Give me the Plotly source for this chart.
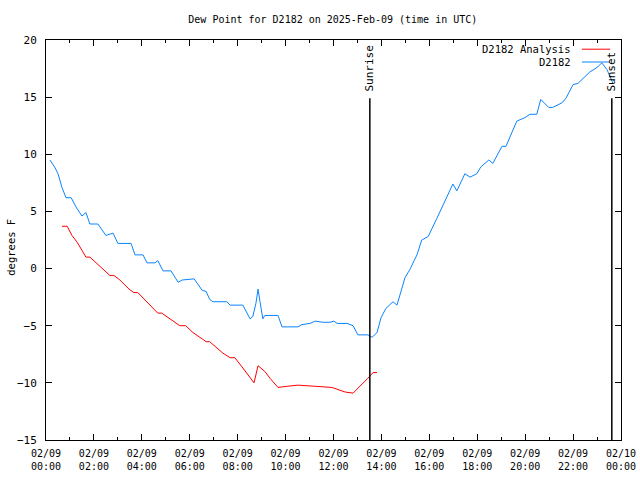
import plotly.graph_objects as go

DAY = "2025-02-09"

obs_times = ["00:10","00:23","00:30","00:40","00:50","01:03","01:15","01:23","01:30","01:40",
             "01:50","02:10","02:30","02:48","03:00","03:33","03:43","04:03","04:13","04:33",
             "04:40","04:53","05:13","05:31","05:41","06:11","06:31","06:41","06:50","06:58",
             "07:33","07:41","08:13","08:31","08:38","08:46","08:51","08:56","09:03","09:08",
             "09:41","09:51","10:31","10:41","11:01","11:14","11:34","11:51","12:01","12:09",
             "12:34","12:49","13:01","13:26","13:37","13:49","13:59","14:11","14:29","14:39",
             "14:51","14:59","15:11","15:29","15:41","15:57","16:19","16:39","16:59","17:09",
             "17:29","17:42","17:59","18:09","18:29","18:39","19:02","19:12","19:39","19:59",
             "20:12","20:29","20:39","20:59","21:09","21:32","21:42","22:00","22:12","22:42",
             "23:00","23:12","23:25","23:40"]
obs_vals = [9.5,8.8,8.3,7.1,6.2,6.2,5.4,5.0,4.6,4.9,
            3.9,3.9,2.9,3.1,2.2,2.2,1.2,1.2,0.5,0.5,
            0.7,-0.2,-0.2,-1.2,-1.0,-0.9,-1.9,-2.0,-2.7,-2.9,
            -2.9,-3.2,-3.2,-4.4,-4.2,-3.0,-1.8,-2.9,-4.4,-4.1,
            -4.1,-5.1,-5.1,-4.9,-4.8,-4.6,-4.7,-4.7,-4.6,-4.8,
            -4.8,-5.0,-5.8,-5.8,-6.0,-5.6,-4.3,-3.5,-2.9,-3.2,
            -1.7,-0.8,-0.1,1.2,2.5,2.8,4.4,5.9,7.4,6.8,
            8.3,8.0,8.3,8.9,9.5,9.2,10.7,10.7,12.9,13.2,
            13.5,13.5,14.8,14.1,14.1,14.5,14.9,16.1,16.2,17.2,
            17.6,18.0,17.4,16.2]

ana_times = ["00:40","00:53","01:05","01:18","01:30","01:40","01:50","02:03","02:28","02:40",
             "02:50","03:05","03:28","03:40","03:50","04:40","04:50","05:11","05:35","05:50",
             "06:08","06:33","06:41","06:50","07:23","07:41","07:53","08:13","08:41","08:51",
             "09:08","09:21","09:41","10:04","10:31","11:14","11:56","12:29","12:49","13:26",
             "13:39","13:49"]
ana_vals = [3.7,3.7,2.9,2.3,1.6,1.0,1.0,0.6,-0.2,-0.6,
            -0.6,-1.0,-1.8,-2.1,-2.1,-3.9,-3.9,-4.4,-5.0,-5.0,
            -5.6,-6.2,-6.4,-6.4,-7.4,-7.8,-7.8,-8.7,-10.0,-8.5,
            -9.0,-9.6,-10.4,-10.3,-10.2,-10.3,-10.4,-10.8,-10.9,-9.6,
            -9.1,-9.1]

sun_times = ["13:31", "23:37"]
sun_labels = ["Sunrise", "Sunset"]

FONT = "DejaVu Sans Mono"
FS = 10
RED = "#ff0000"
BLUE = "#0a84ff"

def ts(t):
    return f"{DAY} {t}"

fig = go.Figure()
fig.add_trace(go.Scatter(x=[ts(t) for t in ana_times], y=ana_vals, mode="lines",
                         line=dict(color=RED, width=1), name="D2182 Analysis", showlegend=False))
fig.add_trace(go.Scatter(x=[ts(t) for t in obs_times], y=obs_vals, mode="lines",
                         line=dict(color=BLUE, width=1), name="D2182", showlegend=False))

for t, lab in zip(sun_times, sun_labels):
    fig.add_shape(type="line", xref="x", yref="y", x0=ts(t), x1=ts(t), y0=-15, y1=14.9,
                  line=dict(color="black", width=1.5))
    fig.add_annotation(x=ts(t), y=15.3, xref="x", yref="y", text=lab, textangle=-90,
                       showarrow=False, yanchor="bottom", xanchor="center",
                       font=dict(family=FONT, size=FS + 1, color="black"))

# manual legend (text left of sample line, as in the reference)
for lab, col, yp in [("D2182 Analysis", RED, 0.977), ("D2182", BLUE, 0.945)]:
    fig.add_annotation(x=0.917, y=yp, xref="paper", yref="paper", text=lab, showarrow=False,
                       xanchor="right", yanchor="middle",
                       font=dict(family=FONT, size=FS + 0.5, color="black"))
    fig.add_shape(type="line", xref="paper", yref="paper", x0=0.932, x1=0.981, y0=yp, y1=yp,
                  line=dict(color=col, width=1))

# y-axis title placed as in the reference
fig.add_annotation(x=-0.061, y=0.483, xref="paper", yref="paper", text="degrees F",
                   textangle=-90, showarrow=False, xanchor="center", yanchor="middle",
                   font=dict(family=FONT, size=FS + 0.5, color="black"))

fig.update_layout(
    width=640, height=480,
    margin=dict(l=46, r=19, t=40, b=40, autoexpand=False),
    paper_bgcolor="white", plot_bgcolor="white",
    font=dict(family=FONT, size=FS, color="black"),
    title=dict(text="Dew Point for D2182 on 2025-Feb-09 (time in UTC)", x=0.52, xanchor="center",
               y=0.96, yanchor="middle", font=dict(family=FONT, size=FS)),
    showlegend=False,
)
fig.update_xaxes(
    range=[f"{DAY} 00:00", "2025-02-10 00:00"],
    type="date", dtick=2 * 3600 * 1000, tick0=f"{DAY} 00:00",
    tickformat="%m/%d<br>%H:%M",
    ticks="inside", ticklen=6, tickcolor="black",
    minor=dict(dtick=3600 * 1000, ticks="inside", ticklen=3, tickcolor="black"),
    showline=True, linecolor="black", linewidth=1, mirror="ticks",
    showgrid=False, zeroline=False, automargin=False, ticklabelstandoff=4,
    tickfont=dict(family=FONT, size=FS),
)
fig.update_yaxes(
    range=[-15, 20], dtick=5, tick0=0,
    ticks="inside", ticklen=6, tickcolor="black",
    showline=True, linecolor="black", linewidth=1, mirror="ticks",
    showgrid=False, zeroline=False, automargin=False, ticklabelstandoff=6,
    tickfont=dict(family=FONT, size=FS + 1),
)

fig.write_html("out.html")
